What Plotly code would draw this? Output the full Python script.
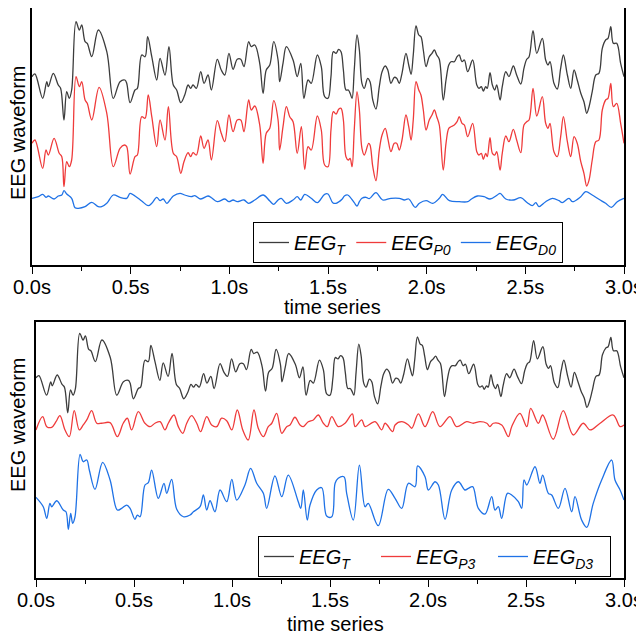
import plotly.graph_objects as go

# ---------------- data ----------------
# EEG_T (same recording in both panels)
t_T = [0.000,0.015,0.054,0.075,0.083,0.108,0.133,0.145,0.162,0.176,
       0.189,0.201,0.223,0.240,0.252,0.269,0.280,0.303,0.336,0.379,
       0.412,0.446,0.471,0.480,0.497,0.522,0.534,0.556,0.573,0.586,
       0.607,0.632,0.649,0.674,0.694,0.716,0.733,0.754,0.774,0.791,
       0.804,0.816,0.833,0.855,0.872,0.892,0.909,0.939,0.959,0.977,
       0.998,1.019,1.040,1.058,1.074,1.098,1.111,1.129,1.154,1.171,
       1.187,1.205,1.225,1.247,1.255,1.272,1.289,1.323,1.344,1.362,
       1.378,1.399,1.415,1.446,1.466,1.483,1.500,1.515,1.527,1.541,
       1.554,1.566,1.578,1.591,1.603,1.612,1.622,1.633,1.647,1.659,
       1.672,1.684,1.701,1.713,1.727,1.743,1.760,1.774,1.790,1.803,
       1.819,1.836,1.848,1.861,1.875,1.895,1.909,1.921,1.932,1.946,
       1.960,1.971,1.983,1.997,2.013,2.027,2.039,2.051,2.064,2.084,
       2.098,2.112,2.123,2.140,2.154,2.165,2.179,2.191,2.208,2.233,
       2.254,2.265,2.277,2.287,2.299,2.307,2.321,2.333,2.345,2.355,
       2.372,2.383,2.401,2.417,2.439,2.456,2.477,2.493,2.507,2.519,
       2.539,2.558,2.586,2.603,2.615,2.625,2.645,2.662,2.679,2.693,
       2.713,2.730,2.747,2.763,2.781,2.797,2.811,2.823,2.839,2.857,
       2.873,2.890,2.907,2.919,2.933,2.946,2.963,2.983,3.000]
eeg_T = [-6.7,-4,-28.3,-11.7,-16.7,-3.3,-15,-18.3,-50,-21.7,
         -28.3,-20,48.3,40,45,28.3,26.7,13.3,40,18.3,
         -28.3,-11.7,-10,-13.3,-32.7,-20,-18.3,15,13.3,33.3,
         13.3,-10,11.7,-5,23.3,-15,-20,-32.7,-25,-15,
         -18.3,-15,-18.3,-1.7,-13.3,-5,-20,10.7,0,-5,
         16.7,0.7,10.7,10.7,3.3,28.3,23.3,25,6.7,-23.3,
         0,5,28.3,10,-11.7,6.7,23.3,10,-6.7,6.7,
         -28.3,-10,-13.3,15,3.3,-26.7,-28.3,-6.7,18.3,16.7,
         20.7,18.3,0,-20,-20,-23.3,-28.3,0,35,20,
         -13.3,-18.3,-8.3,-11.7,-30,-39,-16.7,-1.7,4,0,
         -13.3,-7.3,-8.3,-13.3,-3.3,16.7,5,-4.3,15,44,
         35,33.3,20,3.3,13.3,16.7,20,15,10.7,-30,
         -10,5,8.3,8.3,13.3,15,8.3,10,-1.7,10,
         -15,-18.3,-16.7,-21,-16.7,-18.3,-2.7,-15,-20,-15,
         -30,-16.7,-1.7,-6.7,4,-5,-14,1.7,10.7,13.3,
         39.3,16.7,31.7,10,5,8.3,-13.3,-19,1.7,15,
         -5,-18.3,0,-10,-23.3,-31.7,-43.3,-36.7,-21.7,-5,
         -3.3,21.7,30,31.7,43.3,26.7,26.7,6.7,-6.7]

# EEG_P0
t_P0 = [0.000,0.015,0.054,0.071,0.083,0.112,0.138,0.151,0.162,0.176,
        0.189,0.201,0.223,0.240,0.252,0.269,0.280,0.303,0.340,0.379,
        0.412,0.446,0.468,0.480,0.497,0.522,0.534,0.556,0.573,0.589,
        0.607,0.632,0.649,0.674,0.691,0.716,0.733,0.754,0.770,0.791,
        0.804,0.816,0.833,0.855,0.872,0.892,0.909,0.939,0.959,0.977,
        0.998,1.019,1.040,1.058,1.074,1.098,1.111,1.129,1.154,1.171,
        1.187,1.205,1.225,1.247,1.255,1.272,1.289,1.306,1.323,1.344,
        1.365,1.382,1.399,1.415,1.446,1.466,1.483,1.500,1.515,1.527,
        1.541,1.554,1.566,1.578,1.591,1.603,1.612,1.622,1.633,1.647,
        1.659,1.672,1.684,1.706,1.713,1.727,1.743,1.760,1.774,1.790,
        1.803,1.819,1.836,1.848,1.861,1.875,1.895,1.909,1.921,1.932,
        1.946,1.960,1.971,1.983,1.997,2.013,2.027,2.039,2.051,2.064,
        2.084,2.098,2.112,2.123,2.140,2.154,2.165,2.179,2.191,2.208,
        2.233,2.254,2.265,2.277,2.287,2.299,2.307,2.321,2.333,2.345,
        2.355,2.372,2.383,2.401,2.417,2.439,2.456,2.477,2.493,2.507,
        2.519,2.539,2.558,2.586,2.603,2.615,2.625,2.645,2.662,2.679,
        2.693,2.713,2.730,2.747,2.763,2.781,2.797,2.811,2.823,2.839,
        2.857,2.873,2.890,2.907,2.919,2.933,2.946,2.963,2.983,3.000]
eeg_P0 = [-6.3,-3,-31.3,-13,-18,-1.3,-16.3,-19.7,-49.7,-24.7,
          -29.7,-23,60.3,50.3,55.3,37,33.7,17,49.7,23.7,
          -29.7,-11.3,-8,-9.7,-37,-19.7,-18,20.3,18.7,42,
          20.3,-9.7,17,-3,30.3,-16.3,-19.7,-36.3,-24.7,-15.7,
          -19.7,-15.7,-18,1,-11.3,-3,-23,16.3,3.7,-4.7,
          22,5.3,17,17,5.3,37,27,31,12,-26.3,
          3.7,8.7,36.3,17,-13,10.3,30.3,20.3,15.3,-16.3,
          10.3,-32.3,-9.7,-13,21,7,-28,-29.7,7,25.3,
          23,27.7,28.7,17,-19.7,-23,-21.3,-29.7,7,45.3,
          27,-11.3,-18,-6.3,-8,-29.7,-43.7,-13,2,8.7,
          -1.3,-14.7,-6.3,-6.3,-13,-3,22,10.3,-3,17,
          55.3,47,42,27,7,17,22,27,20.3,12,
          -33,-6.3,8.7,10.3,12,15.3,20.3,13.7,12,0.3,
          13.7,-14.7,-18,-16.3,-22.3,-16.3,-19.7,-0.7,-16.3,-18,
          -14.7,-33,-16.3,1,-4.7,7.7,-3,-15.7,12,15.3,
          17,48.7,21,40.3,13.7,8.7,13.7,-14.7,-19.7,0.3,
          20.3,-4.7,-19.7,0.3,-6.3,-24.7,-36.3,-49,-43,-23,
          -4.7,-3,27,37,38.7,53.7,30.3,33.7,13.7,-6.3]

# EEG_D0
t_D0 = [0.000,0.032,0.054,0.071,0.083,0.112,0.133,0.151,0.162,0.176,
        0.201,0.218,0.235,0.269,0.303,0.336,0.353,0.379,0.412,0.446,
        0.480,0.497,0.522,0.556,0.589,0.607,0.632,0.649,0.665,0.683,
        0.699,0.716,0.750,0.774,0.807,0.825,0.855,0.892,0.909,0.939,
        0.977,0.998,1.019,1.040,1.074,1.098,1.129,1.171,1.205,1.225,
        1.247,1.263,1.289,1.323,1.344,1.362,1.382,1.415,1.446,1.483,
        1.500,1.524,1.541,1.571,1.583,1.600,1.633,1.647,1.659,1.672,
        1.693,1.709,1.743,1.777,1.819,1.861,1.887,1.909,1.942,1.963,
        1.997,2.031,2.064,2.081,2.115,2.165,2.208,2.225,2.257,2.291,
        2.321,2.358,2.372,2.401,2.439,2.477,2.510,2.535,2.553,2.569,
        2.603,2.637,2.671,2.687,2.721,2.738,2.781,2.806,2.839,2.873,
        2.907,2.936,2.966,3.000]
eeg_D0 = [-0.3,1.3,3.7,0.7,2,-1,2,3,7.3,4,
          -0.3,-9.7,-10.3,-8.7,-4.3,-8.7,-8.7,-5.3,3,0.7,
          -0.3,4.7,2,-3,-7.7,-5.3,0.7,-2.7,-1,-5.3,
          -2,2,4.7,3,1.3,2.3,-1,2,0.3,-3.7,
          -1,-3.7,-2,-3.7,-2,-5.3,-2,3,-3,-6.3,
          -2,-0.3,-5.3,-2,1.3,-2,3.7,-0.3,-4.7,3.7,
          4,-4.7,-5.3,-1.3,2,3,-4.7,-8,-3.7,-0.3,
          0.7,-0.7,5.3,-2,-0.3,-0.3,-2,-1,-9.3,-5.3,
          -2.7,-5.3,-0.3,3.7,-2.7,-3.7,-3.7,-1.3,2,1.3,
          -1,3,4.7,-1,-2,0.3,-4.7,-7.7,-4.7,-8.7,
          -3.7,-0.3,-2.7,-4.7,-0.3,-3.7,1.3,6.3,3,-1.3,
          -5.3,-9.3,-3.7,-0.3]

# EEG_P3
t_P3 = [0.000,0.034,0.055,0.080,0.102,0.122,0.148,0.170,0.195,0.221,
        0.241,0.259,0.284,0.310,0.335,0.378,0.415,0.445,0.466,0.488,
        0.522,0.556,0.582,0.607,0.633,0.658,0.675,0.704,0.726,0.749,
        0.769,0.794,0.820,0.840,0.871,0.896,0.922,0.947,0.973,0.999,
        1.027,1.055,1.083,1.112,1.134,1.160,1.185,1.203,1.228,1.254,
        1.279,1.296,1.321,1.347,1.364,1.389,1.415,1.440,1.466,1.486,
        1.509,1.542,1.577,1.614,1.628,1.662,1.679,1.730,1.764,1.781,
        1.820,1.832,1.866,1.900,1.917,1.951,1.985,2.024,2.061,2.112,
        2.146,2.197,2.231,2.265,2.300,2.316,2.333,2.376,2.410,2.427,
        2.469,2.504,2.524,2.563,2.585,2.639,2.690,2.741,2.792,2.827,
        2.878,2.945,2.980,3.000]
eeg_P3 = [-7.4,9.0,-3.3,-4.1,2.8,10.3,-7.4,-15.7,16.5,-7.4,
          -1.2,5.0,16.5,0.9,0.9,1.6,-15.7,0.9,7.1,-7.4,
          15.2,0.9,-3.3,0.9,2.8,-7.4,0.9,11.1,-3.3,-11.5,
          0.9,10.3,0.9,-9.5,9.0,-1.2,-3.3,7.1,4.1,-7.4,
          17.3,-7.4,-19.8,17.3,-5.3,-15.7,-3.3,0.9,13.2,-11.5,
          -3.3,-1.2,8.3,-1.2,-3.3,2.8,5.0,11.1,0.9,-3.3,
          9.0,-3.3,0.9,12.4,-3.3,5.0,-3.3,2.8,-7.4,0.9,
          -9.5,-1.2,2.8,-1.2,-5.3,12.4,-3.3,15.2,-3.3,9.0,
          -3.3,2.8,0.9,2.8,0.9,-3.3,0.9,-1.2,-15.7,-3.3,
          13.2,-3.3,19.4,0.9,11.1,-18.9,16.5,-13.6,0.9,-7.4,
          0.9,11.1,-3.3,-1.2]

# EEG_D3
t_D3 = [0.000,0.037,0.055,0.071,0.080,0.106,0.139,0.153,0.165,0.177,
        0.187,0.199,0.225,0.241,0.259,0.272,0.301,0.340,0.378,0.415,
        0.437,0.463,0.480,0.505,0.517,0.531,0.556,0.573,0.590,0.624,
        0.653,0.667,0.692,0.718,0.752,0.786,0.803,0.837,0.854,0.871,
        0.888,0.913,0.939,0.973,0.999,1.024,1.066,1.095,1.126,1.160,
        1.177,1.219,1.254,1.287,1.338,1.351,1.364,1.384,1.398,1.432,
        1.458,1.483,1.509,1.526,1.542,1.571,1.585,1.619,1.650,1.679,
        1.695,1.746,1.797,1.832,1.866,1.900,1.934,1.947,1.985,2.002,
        2.036,2.053,2.087,2.121,2.155,2.189,2.206,2.228,2.257,2.291,
        2.325,2.342,2.359,2.376,2.405,2.427,2.461,2.478,2.490,2.504,
        2.546,2.571,2.585,2.614,2.631,2.665,2.699,2.733,2.750,2.784,
        2.810,2.843,2.886,2.937,2.954,2.980,3.000]
eeg_D3 = [3.3,-8.3,-22.6,-4.1,-8.3,-0.9,-12.4,-14.5,-36.3,-16.5,
          -28.8,-20.7,56.6,47.4,49.5,37.1,13.2,46.7,24.8,-12.4,
          -10.3,-6.2,-10.3,-23.9,-18.6,-20.7,18.6,21.4,37.1,2.1,
          20.7,8.3,25.6,-11.5,-20.7,-18.6,-14.5,-8.3,6.2,-12.4,
          -0.9,-14.5,12.4,-2.1,25.6,0,18.6,39.2,20.7,8.3,
          -10.3,29.7,4.1,30.9,-2.1,-10.3,12.4,-24.8,-6.2,12.4,
          15.2,-19.8,-20.7,20.7,26.9,28.8,8.3,-24.8,43.3,-8.3,
          -4.1,-31.8,13.2,2.1,-10.3,20.7,16.5,42.1,28.8,12.4,
          22.6,18.6,-23.9,12.4,22.6,12.4,14.5,16.5,-10.3,-17.3,
          4.1,-12.4,-8.3,-22.6,8.3,6.2,-2.1,-10.3,24.8,18.6,
          41.2,20.7,30.9,8.3,6.2,-10.3,14.5,-14.5,4.1,-24.8,
          -33.8,-4.1,24.8,49.5,24.8,12.4,0]

tick_vals = [0, 0.5, 1.0, 1.5, 2.0, 2.5, 3.0]
tick_text = ["0.0s", "0.5s", "1.0s", "1.5s", "2.0s", "2.5s", "3.0s"]
minor_vals = [0.25, 0.75, 1.25, 1.75, 2.25, 2.75]

names_top = ["<i>EEG<sub>T</sub></i>", "<i>EEG<sub>P0</sub></i>", "<i>EEG<sub>D0</sub></i>"]
names_bot = ["<i>EEG<sub>T</sub></i>", "<i>EEG<sub>P3</sub></i>", "<i>EEG<sub>D3</sub></i>"]
x_title = "time series"
y_title = "EEG waveform"

# ---------------- styling / stacking offsets ----------------
C_T, C_P, C_D = "#3c3c3c", "#ef3b3b", "#1f72e6"
OFF_TOP = [195, 128, 67]
OFF_BOT = [254.5, 190.6, 96.5]
FONT = "Arial, Liberation Sans, sans-serif"
LW = 1.3

# the page body adds an 8 px margin, so the figure is drawn 8 px in
PAGE_W, PAGE_H, BODY = 644, 637, 8
W, H = PAGE_W - BODY, PAGE_H - BODY

def px(x):  # window x -> paper fraction
    return (x - BODY) / W

def py(y):  # window y -> paper fraction
    return min(1.0, max(0.0, 1 - (y - BODY) / H))

fig = go.Figure()

def add(t, v, off, color, name, xa, ya, leg):
    fig.add_trace(go.Scatter(
        x=t, y=[a + off for a in v], mode="lines", name=name,
        line=dict(color=color, width=LW, shape="spline", smoothing=1.0),
        xaxis=xa, yaxis=ya, legend=leg))

add(t_T, eeg_T, OFF_TOP[0], C_T, names_top[0], "x", "y", "legend")
add(t_P0, eeg_P0, OFF_TOP[1], C_P, names_top[1], "x", "y", "legend")
add(t_D0, eeg_D0, OFF_TOP[2], C_D, names_top[2], "x", "y", "legend")
add(t_T, eeg_T, OFF_BOT[0], C_T, names_bot[0], "x2", "y2", "legend2")
add(t_P3, eeg_P3, OFF_BOT[1], C_P, names_bot[1], "x2", "y2", "legend2")
add(t_D3, eeg_D3, OFF_BOT[2], C_D, names_bot[2], "x2", "y2", "legend2")

def xax(domain, anchor, mirror):
    return dict(domain=domain, anchor=anchor, range=[0, 3], automargin=False,
                tickmode="array", tickvals=tick_vals, ticktext=tick_text,
                ticks="outside", ticklen=7, tickwidth=1.3, tickcolor="black",
                ticklabelstandoff=-4,
                minor=dict(tickmode="array", tickvals=minor_vals, ticks="outside",
                           ticklen=4, tickwidth=1.3, tickcolor="black"),
                showline=True, linewidth=1.5, linecolor="black", mirror=mirror,
                showgrid=False, zeroline=False,
                tickfont=dict(size=20, color="black", family=FONT))

def yax(domain, anchor, rng):
    return dict(domain=domain, anchor=anchor, range=rng, automargin=False,
                showline=True, linewidth=1.5, linecolor="black", mirror=True,
                ticks="", showticklabels=False, showgrid=False, zeroline=False)

leg_common = dict(orientation="h", xanchor="left", yanchor="top",
                  bgcolor="white", bordercolor="black", borderwidth=1,
                  font=dict(size=20, color="black", family=FONT))

def label(text, x, y, angle=0):
    return dict(text=text, x=px(x), y=py(y), xref="paper", yref="paper",
                xanchor="center", yanchor="middle", textangle=angle, showarrow=False,
                font=dict(size=20, color="black", family=FONT))

fig.update_layout(
    width=W, height=H,
    margin=dict(l=0, r=0, t=0, b=0, autoexpand=False),
    paper_bgcolor="white", plot_bgcolor="white",
    font=dict(family=FONT, color="black"),
    xaxis=xax([px(32), px(624)], "y", False),
    yaxis=yax([py(265), py(8)], "x", [0, 257]),
    xaxis2=xax([px(36), px(624)], "y2", True),
    yaxis2=yax([py(578), py(322)], "x2", [0, 316.8]),
    legend=dict(x=px(253), y=py(222), **leg_common),
    legend2=dict(x=px(258), y=py(536), entrywidth=72, entrywidthmode="pixels",
                 **leg_common),
    annotations=[
        label(y_title, 18, 133, -90),
        label(y_title, 18, 425, -90),
        label(x_title, 332, 307),
        label(x_title, 335, 624),
    ],
)

fig.write_html("out.html")
